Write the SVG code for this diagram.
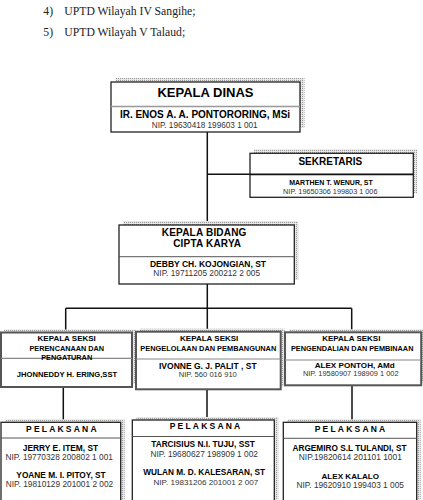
<svg xmlns="http://www.w3.org/2000/svg" width="423" height="500" viewBox="0 0 423 500">
<defs>
<pattern id="dot" width="2" height="2" patternUnits="userSpaceOnUse">
<rect width="2" height="2" fill="#e6e6e6"/>
<rect width="1" height="1" fill="#9a9a9a"/>
</pattern>
<style>
.sh{fill:url(#dot)}
.bx{fill:#fff;stroke:#222;stroke-width:1.3}
.bs{fill:#fff;stroke:#555;stroke-width:2}
.dv{stroke:#555;stroke-width:1}
.dg{stroke:#888;stroke-width:1.2}
.cn{fill:none;stroke:#111;stroke-width:1.5}
text{font-family:"Liberation Sans",Arial,sans-serif;text-anchor:middle;fill:#000}
.b{font-weight:bold}
.n{fill:#333}
.top{font-family:"Liberation Serif","DejaVu Serif",serif;font-size:11.7px;fill:#222;text-anchor:start}
.pl{font-weight:bold;font-size:8.5px;letter-spacing:2.2px}
</style>
</defs>
<rect width="423" height="500" fill="#fff"/>

<g id="header">
<text class="top" x="43.3" y="15">4)</text>
<text class="top" x="64.3" y="15">UPTD Wilayah IV Sangihe;</text>
<text class="top" x="43.3" y="36">5)</text>
<text class="top" x="64.3" y="36">UPTD Wilayah V Talaud;</text>
</g>

<g id="connectors">
<path class="cn" d="M207.3 132V225M207.3 174.3H250M207.3 284V331.7M65.7 308.3H351.7M65.7 308.3V332.5M351.7 308.3V332.3M63.3 387V422.3M207 389.3V420M352 385.3V422.3"/>
</g>

<g id="kepala-dinas">
<rect class="sh" x="115.5" y="78" width="189" height="50"/>
<rect class="bx" x="111" y="82" width="189" height="50"/>
<line x1="111" y1="106.5" x2="300" y2="106.5" stroke="#999" stroke-width="1.6"/>
<text class="b" x="205.5" y="96.5" font-size="13">KEPALA DINAS</text>
<text class="b" x="205" y="118.3" font-size="10">IR. ENOS A. A. PONTORORING, MSi</text>
<text class="n" x="204.7" y="128.3" font-size="8.2">NIP. 19630418 199603 1 001</text>
</g>

<g id="sekretaris">
<rect class="sh" x="254" y="149.3" width="163" height="44"/>
<rect class="bx" x="250" y="153.3" width="163.3" height="44"/>
<line x1="250" y1="174.3" x2="413.3" y2="174.3" stroke="#111" stroke-width="1.8"/>
<text class="b" x="330.3" y="165" font-size="10">SEKRETARIS</text>
<text class="b" x="331" y="185" font-size="7">MARTHEN T. WENUR, ST</text>
<text class="n" x="330.3" y="194.3" font-size="7.3">NIP. 19650306 199803 1 006</text>
</g>

<g id="kepala-bidang">
<rect class="sh" x="123" y="221" width="175.3" height="59"/>
<rect class="bx" x="119" y="225" width="175.3" height="59"/>
<line class="dv" x1="119" y1="256.7" x2="294.3" y2="256.7"/>
<text class="b" x="204.2" y="236" font-size="10" letter-spacing="0.2">KEPALA BIDANG</text>
<text class="b" x="207.2" y="247.3" font-size="10" letter-spacing="0.2">CIPTA KARYA</text>
<text class="b" x="208" y="266.7" font-size="8.5">DEBBY CH. KOJONGIAN, ST</text>
<text class="n" x="206.7" y="275.7" font-size="8.3">NIP. 19711205 200212 2 005</text>
</g>

<g id="seksi-perencanaan">
<rect class="sh" x="4" y="329.5" width="131.5" height="54.5"/>
<rect class="bs" x="1" y="332.5" width="131" height="54.5"/>
<line class="dg" x1="1" y1="358.3" x2="132" y2="358.3"/>
<text class="b" x="66.7" y="340.7" font-size="8">KEPALA SEKSI</text>
<text class="b" x="66.8" y="351" font-size="7.3">PERENCANAAN DAN</text>
<text class="b" x="66.7" y="360" font-size="7.3">PENGATURAN</text>
<text class="b" x="67" y="377.3" font-size="7.6">JHONNEDDY H. ERING,SST</text>
</g>

<g id="seksi-pengelolaan">
<rect class="sh" x="140" y="328.7" width="144.7" height="57.6"/>
<rect class="bs" x="136" y="331.7" width="144.7" height="57.6"/>
<line class="dg" x1="136" y1="359" x2="280.7" y2="359"/>
<text class="b" x="209.2" y="340.7" font-size="8">KEPALA SEKSI</text>
<text class="b" x="208.3" y="350.7" font-size="7.4">PENGELOLAAN DAN PEMBANGUNAN</text>
<text class="b" x="207.8" y="368.7" font-size="8.5">IVONNE G. J. PALIT , ST</text>
<text class="n" x="207.8" y="376.7" font-size="7.6">NIP. 560 016 910</text>
</g>

<g id="seksi-pengendalian">
<rect class="sh" x="289" y="329.3" width="136.7" height="53"/>
<rect class="bs" x="285" y="332.3" width="136.2" height="53"/>
<line class="dg" x1="285" y1="360" x2="421.2" y2="360"/>
<text class="b" x="351.3" y="340.7" font-size="8">KEPALA SEKSI</text>
<text class="b" x="352.2" y="350.7" font-size="7.3">PENGENDALIAN DAN PEMBINAAN</text>
<text class="b" x="354.7" y="367.7" font-size="8.1">ALEX PONTOH, AMd</text>
<text class="n" x="350.7" y="375.7" font-size="7.4">NIP. 19580907 198909 1 002</text>
</g>

<g id="pelaksana-1">
<rect class="sh" x="5" y="419.3" width="119.7" height="100"/>
<rect class="bx" x="1" y="422.3" width="119.7" height="100"/>
<line class="dv" x1="1" y1="438" x2="120.7" y2="438"/>
<text class="pl" x="62.4" y="431.7">PELAKSANA</text>
<text class="b" x="60.5" y="450.7" font-size="8.4">JERRY E. ITEM, ST</text>
<text class="n" x="59.2" y="460" font-size="8.3">NIP. 19770328 200802 1 001</text>
<text class="b" x="61" y="478.3" font-size="8.3">YOANE M. I. PITOY, ST</text>
<text class="n" x="59.5" y="487.3" font-size="8.3">NIP. 19810129 201001 2 002</text>
</g>

<g id="pelaksana-2">
<rect class="sh" x="136.3" y="417" width="142" height="100"/>
<rect class="bx" x="132.3" y="420" width="142" height="100"/>
<line class="dv" x1="132.3" y1="436.5" x2="274.3" y2="436.5"/>
<text class="pl" x="206.1" y="429">PELAKSANA</text>
<text class="b" x="203" y="446.7" font-size="8.25">TARCISIUS N.I. TUJU, SST</text>
<text class="n" x="204.2" y="456.7" font-size="8.3">NIP. 19680627 198909 1 002</text>
<text class="b" x="204.2" y="475" font-size="8.25">WULAN M. D. KALESARAN, ST</text>
<text class="n" x="205.8" y="485" font-size="8.1">NIP. 19831206 201001 2 007</text>
</g>

<g id="pelaksana-3">
<rect class="sh" x="287.3" y="419.3" width="133.4" height="100"/>
<rect class="bx" x="283.3" y="422.3" width="133.4" height="100"/>
<line class="dv" x1="283.3" y1="438.3" x2="416.7" y2="438.3"/>
<text class="pl" x="351.1" y="431.7">PELAKSANA</text>
<text class="b" x="349.5" y="450.7" font-size="8.26">ARGEMIRO S.L TULANDI, ST</text>
<text class="n" x="350.3" y="460" font-size="8.4">NIP.19820614 201101 1001</text>
<text class="b" x="350.3" y="479.3" font-size="8.1">ALEX KALALO</text>
<text class="n" x="350.2" y="488.3" font-size="8.3">NIP. 19620910 199403 1 005</text>
</g>
</svg>
